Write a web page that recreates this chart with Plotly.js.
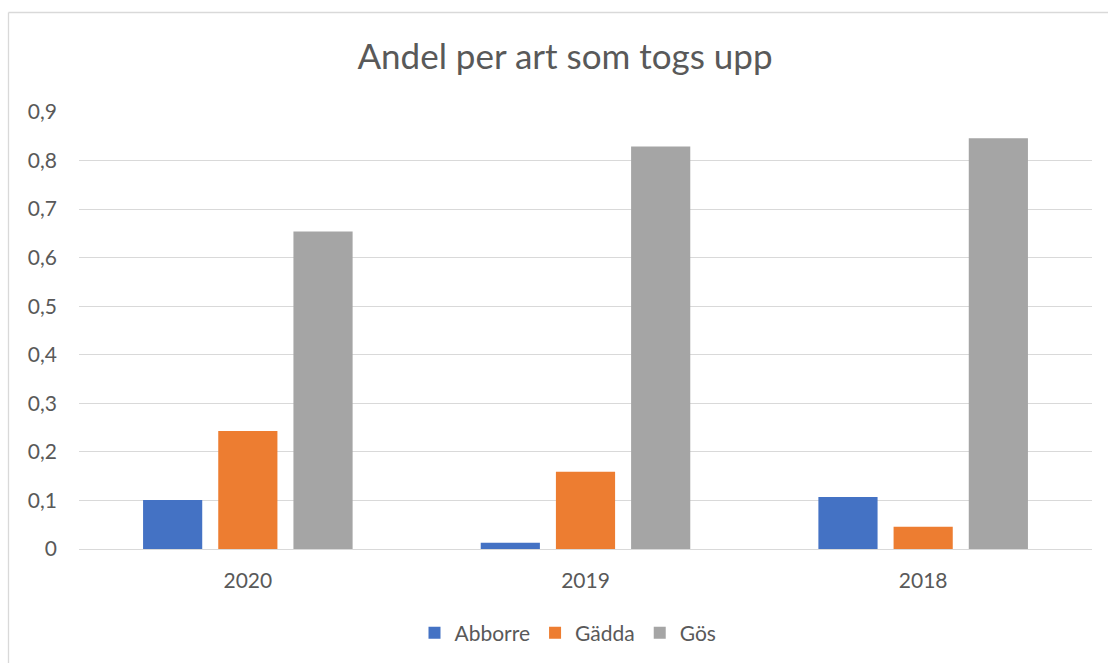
<!DOCTYPE html>
<html>
<head>
<meta charset="utf-8">
<script src="https://cdn.plot.ly/plotly-3.0.1.min.js"></script>
<style>
html,body{margin:0;padding:0;background:#fff;overflow:hidden;}
#chart{width:1108px;height:663px;}
</style>
</head>
<body>
<div id="chart"></div>
<script>
const years = ["2020", "2019", "2018"];
const abborre = [0.101, 0.013, 0.107];
const gadda = [0.243, 0.159, 0.046];
const gos = [0.654, 0.829, 0.846];
const seriesNames = ["Abborre", "Gädda", "Gös"];
const seriesColors = ["#4472C4", "#ED7D31", "#A5A5A5"];
const chartTitle = "Andel per art som togs upp";

const FONT = "Lato, 'Open Sans', sans-serif";
const TXT = "#595959";
const seriesValues = [abborre, gadda, gos];

const traces = seriesValues.map((vals, i) => ({
  type: "bar",
  name: seriesNames[i],
  x: years,
  y: vals,
  marker: {color: seriesColors[i]},
  hoverinfo: "x+y+name"
}));

const L = 79, R = 16, T = 112, B = 114;
const W = 1108, H = 663;
const pw = W - L - R, ph = H - T - B;
const px = v => (v - L) / pw;
const py = v => (H - B - v) / ph;

const layout = {
  width: W, height: H,
  margin: {l: L, r: R, t: T, b: B, pad: 0, autoexpand: false},
  paper_bgcolor: "#ffffff",
  plot_bgcolor: "#ffffff",
  separators: ", ",
  font: {family: FONT, color: TXT, size: 21},
  title: {
    text: chartTitle,
    font: {family: FONT, size: 35, color: TXT},
    xref: "container", yref: "container",
    x: 565 / W, xanchor: "center",
    y: 1 - 57 / H, yanchor: "middle"
  },
  barmode: "group",
  bargap: 0.332,
  bargroupgap: 0.213,
  xaxis: {
    type: "category",
    showgrid: false,
    showline: false,
    zeroline: false,
    ticks: "",
    ticklabelstandoff: 17,
    tickfont: {family: FONT, size: 21, color: TXT}
  },
  yaxis: {
    range: [0, 0.9],
    dtick: 0.1,
    tick0: 0,
    showgrid: true,
    gridcolor: "#d9d9d9",
    gridwidth: 1.3,
    zeroline: true,
    zerolinecolor: "#d9d9d9",
    zerolinewidth: 1.3,
    showline: false,
    ticks: "",
    ticklabelstandoff: 21,
    tickfont: {family: FONT, size: 21, color: TXT}
  },
  showlegend: true,
  legend: {
    orientation: "h",
    xref: "paper", yref: "container",
    x: px(568), xanchor: "center",
    y: 1 - 633 / H, yanchor: "middle",
    font: {family: FONT, size: 21, color: TXT},
    itemwidth: 30,
    tracegroupgap: 0,
    bgcolor: "rgba(0,0,0,0)"
  },
  shapes: [
    {type: "line", xref: "paper", yref: "paper", x0: px(8.5), x1: px(8.5), y0: py(12.5), y1: py(H + 5), line: {color: "#d9d9d9", width: 1.3}},
    {type: "line", xref: "paper", yref: "paper", x0: px(8.5), x1: px(W + 5), y0: py(12.5), y1: py(12.5), line: {color: "#d9d9d9", width: 1.3}}
  ]
};

Plotly.newPlot("chart", traces, layout, {displayModeBar: false, responsive: false});
</script>
</body>
</html>
